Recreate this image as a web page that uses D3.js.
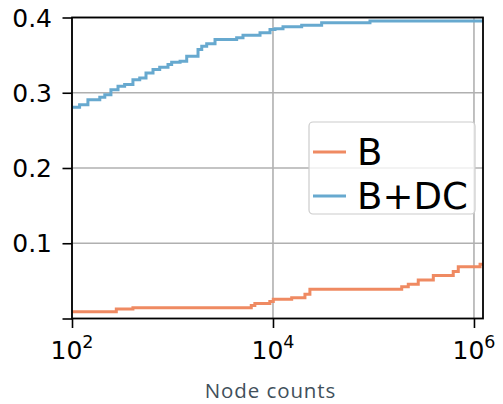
<!DOCTYPE html>
<html>
<head>
<meta charset="utf-8">
<script src="https://cdn.jsdelivr.net/npm/d3@7"></script>
<style>
    body { margin: 0; background: #fff; }
    svg { display: block; }
</style>
</head>
<body>
<svg id="chart"></svg>
<script>
"use strict";

// step curves: node count where each step starts, value after it
const bNodes = [100, 276, 404, 6080, 6600, 9300, 10070, 15350, 20800, 23300, 191000, 222000, 279000, 394000, 622000, 698000, 1150000];
const bValues = [0.0091, 0.0126, 0.0144, 0.0172, 0.0198, 0.0225, 0.0256, 0.0277, 0.0322, 0.0389, 0.0423, 0.0455, 0.0512, 0.0570, 0.0623, 0.0689, 0.0721];

const bdcNodes = [100, 119, 144, 189, 212, 244, 287, 334, 404, 472, 545, 640, 746, 902, 981, 1190, 1385, 1795, 1955, 2190, 2650, 4350, 5030, 7430, 9340, 10470, 12580, 19300, 30500, 92300];
const bdcValues = [0.2806, 0.2842, 0.2908, 0.2939, 0.2975, 0.3041, 0.3085, 0.3108, 0.3174, 0.3197, 0.3264, 0.3308, 0.3338, 0.3374, 0.3405, 0.3418, 0.3485, 0.3574, 0.3618, 0.3650, 0.3707, 0.3730, 0.3764, 0.3796, 0.3840, 0.3849, 0.3876, 0.3898, 0.3929, 0.3955];

const seriesNames = ["B", "B+DC"];
const seriesColors = ["#ef8a62", "#67a9cf"];
const xTicks = [100, 10000, 1000000];
const xTickExponents = ["2", "4", "6"];
const yTicks = [0, 0.1, 0.2, 0.3, 0.4];
const yTickLabels = ["", "0.1", "0.2", "0.3", "0.4"];
const xMax = 1.23e6;

const width = 503;
const height = 404;
const plot = { left: 72, right: 483, top: 17.5, bottom: 318.5 };

const svg = d3.select("#chart")
    .attr("width", width)
    .attr("height", height);

const x = d3.scaleLog()
    .domain([100, xMax])
    .range([plot.left, plot.right]);

const y = d3.scaleLinear()
    .domain([0, 0.4])
    .range([plot.bottom, plot.top]);

// grid
svg.append("g")
    .selectAll("line")
    .data(xTicks)
    .enter()
    .append("line")
    .attr("x1", d => x(d)).attr("x2", d => x(d))
    .attr("y1", plot.top).attr("y2", plot.bottom)
    .attr("stroke", "#b0b0b0")
    .attr("stroke-width", 1.6);

svg.append("g")
    .selectAll("line")
    .data(yTicks.slice(1))
    .enter()
    .append("line")
    .attr("x1", plot.left).attr("x2", plot.right)
    .attr("y1", d => y(d)).attr("y2", d => y(d))
    .attr("stroke", "#b0b0b0")
    .attr("stroke-width", 1.6);

// lines
const line = d3.line()
    .x(d => x(d[0]))
    .y(d => y(d[1]))
    .curve(d3.curveStepAfter);

function toPoints(nodes, values) {
    let pts = nodes.map((n, i) => [n, values[i]]);
    pts.push([xMax, values[values.length - 1]]);
    return pts;
}

const series = [toPoints(bNodes, bValues), toPoints(bdcNodes, bdcValues)];

svg.append("g")
    .selectAll("path")
    .data(series)
    .enter()
    .append("path")
    .attr("d", line)
    .attr("fill", "none")
    .attr("stroke", (d, i) => seriesColors[i])
    .attr("stroke-width", 3);

// frame
svg.append("rect")
    .attr("x", plot.left)
    .attr("y", plot.top)
    .attr("width", plot.right - plot.left)
    .attr("height", plot.bottom - plot.top)
    .attr("fill", "none")
    .attr("stroke", "#000")
    .attr("stroke-width", 1.8);

// axes
const xAxis = svg.append("g")
    .attr("transform", `translate(0, ${plot.bottom})`)
    .call(d3.axisBottom(x).tickValues(xTicks).tickSize(9.5).tickFormat(""));

const yAxis = svg.append("g")
    .attr("transform", `translate(${plot.left}, 0)`)
    .call(d3.axisLeft(y).tickValues(yTicks).tickSize(9.5).tickFormat(""));

for (let ax of [xAxis, yAxis]) {
    ax.select(".domain").remove();
    ax.selectAll(".tick line").attr("stroke", "#000").attr("stroke-width", 1.6);
}

const tickFont = "'DejaVu Sans', sans-serif";

let xLabels = svg.append("g")
    .selectAll("text")
    .data(xTicks)
    .enter()
    .append("text")
    .attr("x", d => x(d))
    .attr("y", 359)
    .attr("text-anchor", "middle")
    .attr("font-family", tickFont)
    .attr("font-size", 25)
    .attr("fill", "#000");

xLabels.append("tspan").text("10");
xLabels.append("tspan")
    .attr("dy", -11)
    .attr("font-size", 17.5)
    .text((d, i) => xTickExponents[i]);

svg.append("g")
    .selectAll("text")
    .data(yTicks)
    .enter()
    .append("text")
    .attr("x", 52)
    .attr("y", d => y(d))
    .attr("dy", "0.36em")
    .attr("text-anchor", "end")
    .attr("font-family", tickFont)
    .attr("font-size", 25)
    .attr("fill", "#000")
    .text((d, i) => yTickLabels[i]);

svg.append("text")
    .attr("x", 270.5)
    .attr("y", 398)
    .attr("text-anchor", "middle")
    .attr("font-family", "'Open Sans', sans-serif")
    .attr("font-weight", 400)
    .attr("font-size", 20.5)
    .attr("letter-spacing", 0.9)
    .attr("fill", "#41505b")
    .text("Node counts");

// legend
const legend = svg.append("g");

legend.append("rect")
    .attr("x", 309)
    .attr("y", 122)
    .attr("width", 166)
    .attr("height", 92)
    .attr("rx", 4)
    .attr("fill", "#fff")
    .attr("fill-opacity", 0.8)
    .attr("stroke", "#cccccc")
    .attr("stroke-width", 1.2);

const items = legend.selectAll(".item")
    .data(seriesNames)
    .enter()
    .append("g")
    .attr("class", "item")
    .attr("transform", (d, i) => `translate(0, ${152 + i * 44})`);

items.append("line")
    .attr("x1", 313).attr("x2", 346)
    .attr("stroke", (d, i) => seriesColors[i])
    .attr("stroke-width", 3);

items.append("text")
    .attr("x", 357)
    .attr("y", 0)
    .attr("dy", "0.36em")
    .attr("font-family", tickFont)
    .attr("font-size", 37)
    .attr("fill", "#000")
    .text(d => d);
</script>
</body>
</html>
